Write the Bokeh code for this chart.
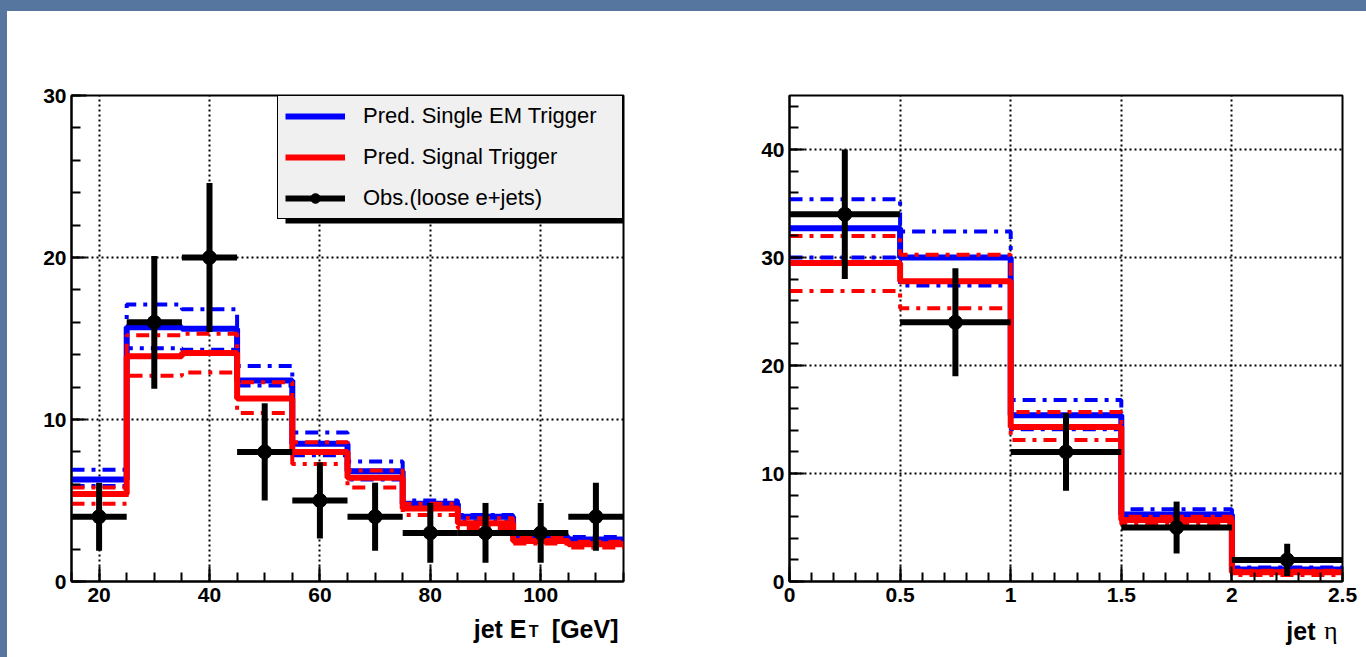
from bokeh.plotting import figure
from bokeh.models import (Range1d, SingleIntervalTicker, Legend, LegendItem, Label,
                          BoxAnnotation, CustomJSTickFormatter, Div)
from bokeh.layouts import row, column
from bokeh.embed import file_html
from bokeh.resources import INLINE

# ---------------- data: jet E_T ----------------
et_edges = [15, 25, 35, 45, 55, 65, 75, 85, 95, 105, 115]
et_centers = [20, 30, 40, 50, 60, 70, 80, 90, 100, 110]
et_obs = [4, 16, 20, 8, 5, 4, 3, 3, 3, 4]
et_obs_err = [2.1, 4.1, 4.6, 3.0, 2.35, 2.1, 1.85, 1.85, 1.85, 2.1]
et_em = [6.3, 15.7, 15.6, 12.4, 8.5, 6.8, 4.8, 4.0, 2.75, 2.6]
et_em_hi = [6.9, 17.1, 16.8, 13.3, 9.2, 7.4, 5.0, 4.1, 2.9, 2.75]
et_em_lo = [5.9, 14.4, 14.3, 12.1, 7.8, 6.3, 4.5, 3.7, 2.6, 2.4]
et_sig = [5.4, 13.9, 14.1, 11.3, 8.0, 6.4, 4.5, 3.6, 2.5, 2.3]
et_sig_hi = [5.8, 15.2, 15.3, 12.3, 8.6, 6.85, 4.8, 3.9, 2.7, 2.45]
et_sig_lo = [4.8, 12.7, 12.9, 10.4, 7.25, 5.8, 4.1, 3.3, 2.35, 2.1]

# ---------------- data: jet eta ----------------
eta_edges = [0.0, 0.5, 1.0, 1.5, 2.0, 2.5]
eta_centers = [0.25, 0.75, 1.25, 1.75, 2.25]
eta_obs = [34, 24, 12, 5, 2]
eta_obs_err = [6.0, 5.0, 3.6, 2.4, 1.5]
eta_em = [32.7, 30.0, 15.4, 6.2, 1.1]
eta_em_hi = [35.4, 32.4, 16.8, 6.7, 1.3]
eta_em_lo = [30.0, 27.4, 14.1, 5.8, 0.95]
eta_sig = [29.5, 27.8, 14.3, 5.7, 0.85]
eta_sig_hi = [32.0, 30.25, 15.7, 6.0, 1.0]
eta_sig_lo = [26.9, 25.3, 13.1, 5.3, 0.6]

legend_labels = ["Pred. Single EM Trigger", "Pred. Signal Trigger", "Obs.(loose e+jets)"]

FONT = "Liberation Sans"
BLUE = "#0000ff"
RED = "#ff0000"
DD = "13 7 4 7"
SLIDE = "#5676a0"


def make_plot(width, height, borders, xr, yr, xtick, ytick, edges, centers,
              obs, err, em, em_hi, em_lo, sig, sig_hi, sig_lo, with_legend):
    bl, br, bt, bb = borders
    p = figure(width=width, height=height, x_range=Range1d(*xr), y_range=Range1d(*yr),
               output_backend="svg", toolbar_location=None,
               min_border_left=bl, min_border_right=br, min_border_top=bt, min_border_bottom=bb)
    p.background_fill_color = "white"
    p.border_fill_color = "white"
    p.outline_line_color = "black"
    p.outline_line_width = 2
    p.outline_line_alpha = 1

    p.xaxis.ticker = SingleIntervalTicker(interval=xtick[0], num_minor_ticks=xtick[1])
    p.yaxis.ticker = SingleIntervalTicker(interval=ytick[0], num_minor_ticks=ytick[1])
    for ax in (p.xaxis[0], p.yaxis[0]):
        ax.axis_line_color = "black"
        ax.axis_line_width = 2
        ax.major_tick_in = 15
        ax.major_tick_out = 0
        ax.minor_tick_in = 9
        ax.minor_tick_out = 0
        ax.major_tick_line_width = 2
        ax.minor_tick_line_width = 2
        ax.major_tick_line_color = "black"
        ax.minor_tick_line_color = "black"
        ax.major_label_text_font = FONT
        ax.major_label_text_font_style = "bold"
        ax.major_label_text_font_size = "21px"
        ax.major_label_text_color = "black"
    p.xaxis.major_label_standoff = 6
    p.yaxis.major_label_standoff = 5

    for g in (p.xgrid[0], p.ygrid[0]):
        g.grid_line_color = "black"
        g.grid_line_width = 2
        g.grid_line_dash = "2 3"

    def steps(vals):
        return list(vals) + [vals[-1]]

    p.step(edges, steps(em_hi), mode="after", line_color=BLUE, line_width=4, line_dash=DD)
    p.step(edges, steps(em_lo), mode="after", line_color=BLUE, line_width=4, line_dash=DD)
    r_em = p.step(edges, steps(em), mode="after", line_color=BLUE, line_width=6)
    r_sig = p.step(edges, steps(sig), mode="after", line_color=RED, line_width=6)
    p.step(edges, steps(sig_hi), mode="after", line_color=RED, line_width=4, line_dash=DD)
    p.step(edges, steps(sig_lo), mode="after", line_color=RED, line_width=4, line_dash=DD)

    x0 = edges[:-1]
    x1 = edges[1:]
    lo = [o - e for o, e in zip(obs, err)]
    hi = [o + e for o, e in zip(obs, err)]
    r_h = p.segment(x0=x0, y0=obs, x1=x1, y1=obs, line_color="black", line_width=6)
    p.segment(x0=centers, y0=lo, x1=centers, y1=hi, line_color="black", line_width=6)
    r_pt = p.scatter(centers, obs, size=14, marker="circle", fill_color="black", line_color="black")

    if with_legend:
        shadow = BoxAnnotation(left=214, right=560, top=481, bottom=358,
                               left_units="screen", right_units="screen",
                               top_units="screen", bottom_units="screen",
                               fill_color="black", fill_alpha=1, line_alpha=0)
        p.add_layout(shadow)
        legend = Legend(items=[LegendItem(label=legend_labels[0], renderers=[r_em]),
                               LegendItem(label=legend_labels[1], renderers=[r_sig]),
                               LegendItem(label=legend_labels[2], renderers=[r_h, r_pt])],
                        location="top_right", margin=0, padding=7, spacing=15,
                        glyph_width=60, glyph_height=24, label_height=24, label_width=252,
                        label_standoff=18, label_text_font=FONT, label_text_font_size="22px",
                        label_text_color="black",
                        background_fill_color="#f0f0f0", background_fill_alpha=1,
                        border_line_color="black", border_line_width=1.5, border_line_alpha=1)
        p.add_layout(legend)
    return p


def title_fig(width, height, xr):
    # x range in page pixels of the plot frame above it (frames are aligned in a column)
    t = figure(width=width, height=height, x_range=Range1d(*xr), y_range=Range1d(0, height),
               output_backend="svg", toolbar_location=None,
               x_axis_location=None, y_axis_location=None,
               min_border_left=0, min_border_right=0, min_border_top=0, min_border_bottom=0)
    t.grid.visible = False
    t.outline_line_color = None
    t.background_fill_color = "white"
    t.border_fill_color = "white"
    return t


PH = 601   # plot height
TH = 45    # title strip height

p1 = make_plot(693, PH, (64, 77, 84, 31), (15, 115), (0, 30), (20, 4), (10, 5),
               et_edges, et_centers, et_obs, et_obs_err, et_em, et_em_hi, et_em_lo,
               et_sig, et_sig_hi, et_sig_lo, True)
p2 = make_plot(666, PH, (89, 24, 84, 31), (0, 2.5), (0, 45), (0.5, 5), (10, 5),
               eta_edges, eta_centers, eta_obs, eta_obs_err, eta_em, eta_em_hi, eta_em_lo,
               eta_sig, eta_sig_hi, eta_sig_lo, False)
p2.xaxis.formatter = CustomJSTickFormatter(code="return String(Math.round(tick*10)/10);")

# axis titles (real text, drawn in small strips under the plots)
lab = dict(text_font=FONT, text_font_style="bold", text_color="black",
           text_align="right", text_baseline="alphabetic")
t1 = title_fig(693, TH, (71, 623))
t1.add_layout(Label(x=618, y=29, text="[GeV]", text_font_size="25px", **lab))
t1.add_layout(Label(x=538, y=26, text="T", text_font_size="16px", **lab))
t1.add_layout(Label(x=526, y=29, text="jet E", text_font_size="25px", **lab))

t2 = title_fig(666, TH, (789, 1342))
t2.add_layout(Label(x=1315, y=27, text="jet", text_font_size="25px", **lab))
t2.add_layout(Label(x=1337, y=27, text="η", text_font_size="26px", text_font="Liberation Serif",
                    text_color="black", text_align="right", text_baseline="alphabetic"))

band = Div(text="", width=1366, height=11, margin=0, styles={"background-color": SLIDE})
strip = Div(text="", width=7, height=PH + TH, margin=0, styles={"background-color": SLIDE})
layout = column(band,
                row(strip, column(p1, t1, spacing=0), column(p2, t2, spacing=0), spacing=0),
                spacing=0)

open("out.html", "w").write(file_html(layout, INLINE))
